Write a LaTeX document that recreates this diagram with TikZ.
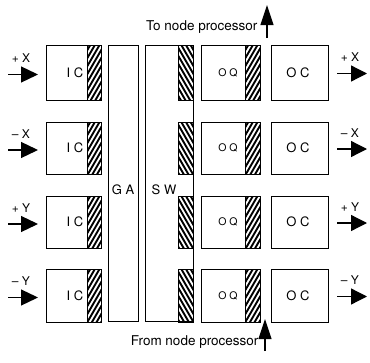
\documentclass[tikz,border=0pt]{standalone}
\usepackage{fontspec}
\setmainfont{TeX Gyre Heros}
\usetikzlibrary{arrows.meta}
\newcommand\hatchfw[4]{%
  \begin{scope}
    \clip (#1,#2) rectangle (#3,#4);
    \foreach \k in {0,8,...,112} \draw[line width=1.9pt] (#1-6,#2+\k) -- ++(40,-69);
  \end{scope}
  \draw[line width=0.9pt] (#1,#2) rectangle (#3,#4);}
\newcommand\hatchbw[4]{%
  \begin{scope}
    \clip (#1,#2) rectangle (#3,#4);
    \foreach \k in {0,8,...,112} \draw[line width=1.9pt] (#1-6,#2-40+\k) -- ++(40,69);
  \end{scope}
  \draw[line width=0.9pt] (#1,#2) rectangle (#3,#4);}
\begin{document}
\begin{tikzpicture}[x=1pt,y=-1pt,
  box/.style={draw, line width=0.9pt, inner sep=0pt, anchor=north west},
  lbl/.style={font=\fontsize{13}{14}\selectfont},
  small/.style={font=\fontsize{10.5}{12}\selectfont},
  side/.style={font=\fontsize{12}{13}\selectfont},
  captext/.style={font=\fontsize{13.5}{15}\selectfont},
  inarr/.style={line width=1.3pt, -{Triangle[length=17pt,width=16pt]}},
  outarr/.style={line width=1.3pt, -{Triangle[length=16pt,width=16pt]}},
  vert/.style={line width=1.2pt, -{Triangle[length=20pt,width=13pt]}}]
\useasboundingbox (0,0) rectangle (370,362);

% tall boxes
\node[box, minimum width=30pt, minimum height=276pt] (ga) at (108,45) {};
\node[box, minimum width=48pt, minimum height=276pt] (sw) at (145,45) {};
\node[lbl] (galbl) at (123,190) {G A};
\node[lbl] (swlbl) at (164,190) {S W};

% rows
\foreach \t/\h/\n/\sl/\lab in {45/55/1/+/X, 122/52/2/–/X, 196/52/3/+/Y, 269/53/4/–/Y}{
  \node[box, minimum width=55pt, minimum height=\h pt] (ic\n) at (46,\t) {};
  \node[box, minimum width=59pt, minimum height=\h pt] (oq\n) at (201,\t) {};
  \node[box, minimum width=57pt, minimum height=\h pt] (oc\n) at (271,\t) {};
  \hatchfw{87}{\t}{101}{\t+\h}
  \hatchfw{245}{\t}{260}{\t+\h}
  \hatchbw{178}{\t}{193}{\t+\h}
  \node[lbl] (icl\n) at (75,\t+\h/2) {I C};
  \node[small] (oql\n) at (228,\t+\h/2) {O Q};
  \node[lbl] (ocl\n) at (298,\t+\h/2) {O C};
  % input arrow
  \coordinate (ins\n) at (8,\t+\h/2+2);
  \coordinate (ine\n) at (38,\t+\h/2+2);
  \draw[inarr] (ins\n) -- (ine\n);
  \node[side] (inl\n) at (21,\t+\h/2-14) {\sl\ \lab};
  % output arrow
  \coordinate (outs\n) at (337,\t+\h/2+1);
  \coordinate (oute\n) at (367,\t+\h/2+1);
  \draw[outarr] (outs\n) -- (oute\n);
  \node[side] (outl\n) at (350,\t+\h/2-15) {\sl\ \lab};
}

% node processor arrows
\coordinate (tops) at (267,38);
\coordinate (tope) at (267,5);
\draw[vert] (tops) -- (tope);
\node[captext, anchor=east] (toplbl) at (261,27) {To node processor};
\coordinate (bots) at (265,351);
\coordinate (bote) at (265,319);
\draw[vert] (bots) -- (bote);
\node[captext, anchor=east] (botlbl) at (262,342) {From node processor};
\end{tikzpicture}
\end{document}
